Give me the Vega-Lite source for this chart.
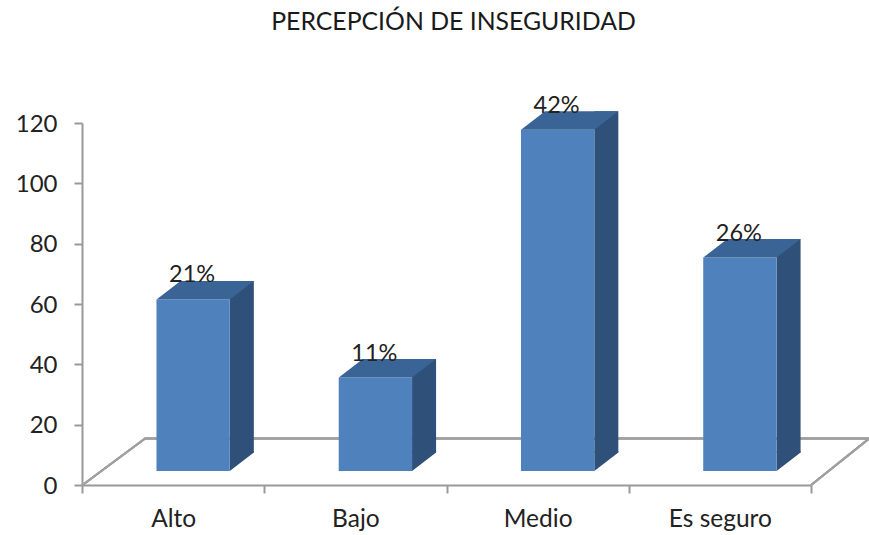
{
"$schema":"https://vega.github.io/schema/vega-lite/v6.json",
"autosize":"none",
"width":729,"height":362,
"padding":{"left":82,"top":123,"right":58,"bottom":50},
"background":"white",
"config":{"view":{"stroke":null},"font":"Lato"},
"title":{"text":"PERCEPCIÓN DE INSEGURIDAD","font":"Lato","fontSize":24.8,"fontWeight":"normal","color":"#1a1a1a","anchor":"middle","dx":7,"offset":59},
"data":{"values":[
{"categoria":"Alto","valor":61.5,"etiqueta":"21%"},
{"categoria":"Bajo","valor":35.6,"etiqueta":"11%"},
{"categoria":"Medio","valor":117.8,"etiqueta":"42%"},
{"categoria":"Es seguro","valor":75.4,"etiqueta":"26%"}
]},
"encoding":{
"x":{"field":"categoria","type":"nominal","scale":{"domain":["Alto","Bajo","Medio","Es seguro"],"paddingInner":0,"paddingOuter":0},
"axis":{"title":null,"labelAngle":0,"tickBand":"extent","tickSize":8,"tickWidth":2,"tickColor":"#999999","domainWidth":2,"domainColor":"#999999","labelFont":"Lato","labelFontSize":24.5,"labelColor":"#222222","labelPadding":14,"grid":false}}
},
"layer":[
{"mark":{"type":"point","shape":"M-90.6 0L-28 -46.5L696 -46.5L638 0","size":4,"filled":false,"fill":null,"stroke":"#a0a0a0","strokeWidth":2,"opacity":1},
 "encoding":{"x":{"datum":"Alto"},"y":{"datum":0,"type":"quantitative","scale":{"domain":[0,120]},"axis":{"title":null,"values":[0,20,40,60,80,100,120],"tickSize":8,"tickWidth":2,"tickColor":"#999999","domainWidth":2,"domainColor":"#999999","labelFont":"Lato","labelFontSize":24,"labelColor":"#222222","labelPadding":17,"labelOffset":1,"grid":false}}}},
{"mark":{"type":"bar","color":"#2f5079","size":24,"xOffset":68.7,"yOffset":-18.5,"y2Offset":-18.5},
 "encoding":{"y":{"field":"valor","type":"quantitative"},"y2":{"datum":4.6}}},
{"mark":{"type":"point","shape":"M56.7 0L80.7 -18.5L80.7 -20L56.7 -20Z","size":4,"filled":true,"color":"#2f5079","opacity":1,"strokeWidth":0},
 "encoding":{"y":{"datum":4.6,"type":"quantitative"}}},
{"mark":{"type":"bar","color":"#4f81bd","size":73.3,"xOffset":20},
 "encoding":{"y":{"field":"valor","type":"quantitative"},"y2":{"datum":4.6}}},
{"mark":{"type":"point","shape":"M-16.6 0L56.7 0L80.7 -18.5L7.4 -18.5Z","size":4,"filled":true,"color":"#3a6496","opacity":1,"strokeWidth":0},
 "encoding":{"y":{"field":"valor","type":"quantitative"}}},
{"mark":{"type":"text","font":"Lato","fontSize":23.5,"color":"#222222","dx":19,"dy":-17,"baseline":"alphabetic","align":"center"},
 "encoding":{"y":{"field":"valor","type":"quantitative"},"text":{"field":"etiqueta"}}}
]
}
